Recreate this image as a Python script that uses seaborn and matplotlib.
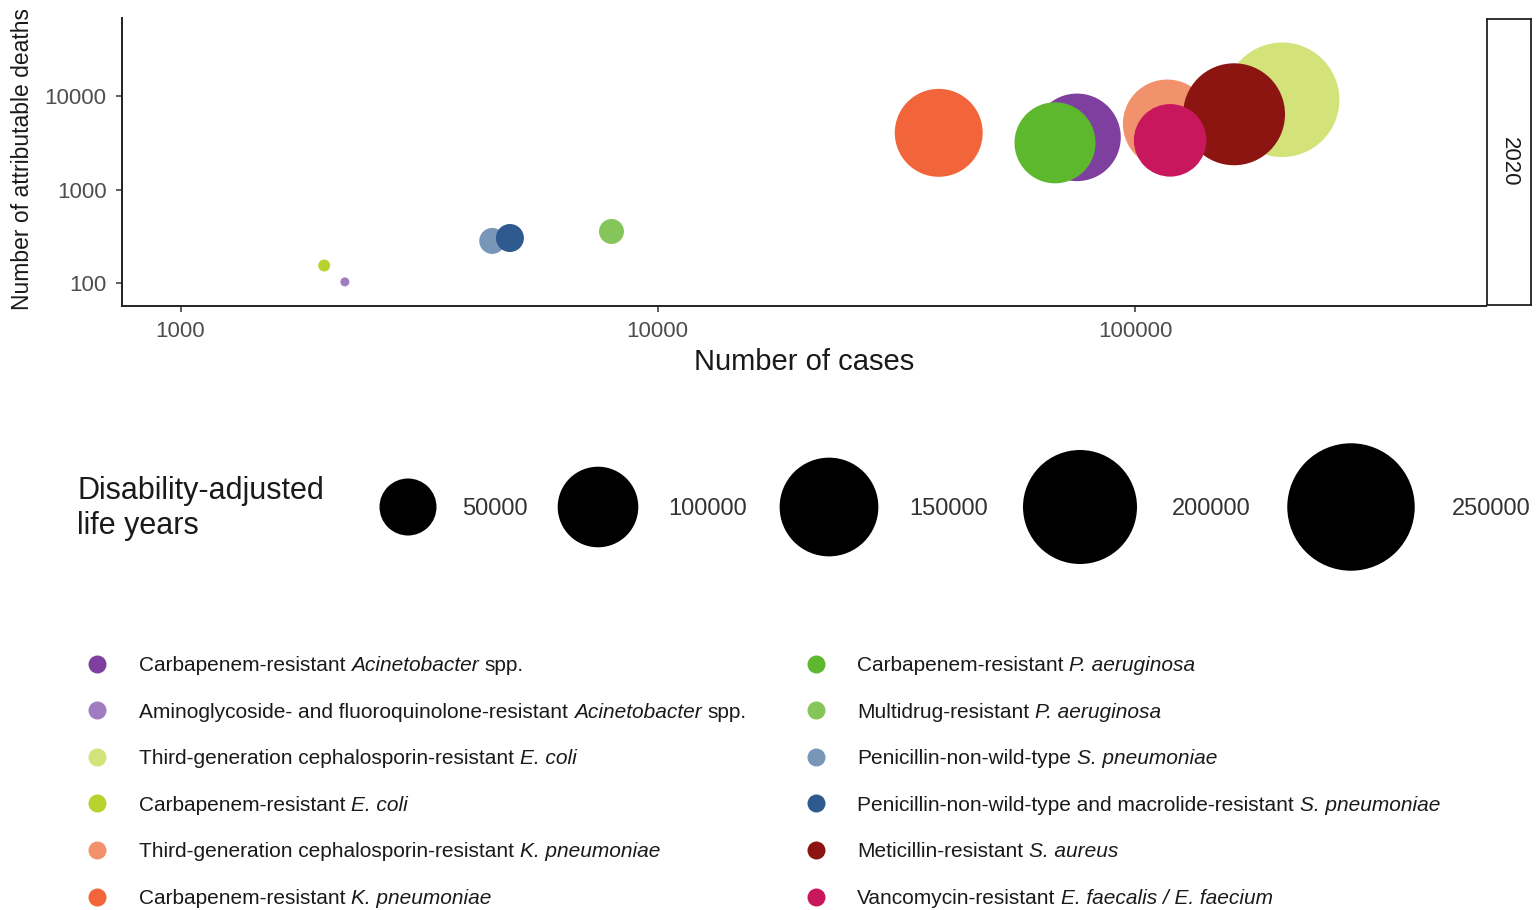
import numpy as np
import pandas as pd
import matplotlib
matplotlib.use("Agg")
import matplotlib.pyplot as plt
from matplotlib.ticker import NullLocator
import seaborn as sns

# ---- data -------------------------------------------------------------
pathogens = [
    "Carbapenem-resistant Acinetobacter spp.",
    "Aminoglycoside- and fluoroquinolone-resistant Acinetobacter spp.",
    "Third-generation cephalosporin-resistant E. coli",
    "Carbapenem-resistant E. coli",
    "Third-generation cephalosporin-resistant K. pneumoniae",
    "Carbapenem-resistant K. pneumoniae",
    "Carbapenem-resistant P. aeruginosa",
    "Multidrug-resistant P. aeruginosa",
    "Penicillin-non-wild-type S. pneumoniae",
    "Penicillin-non-wild-type and macrolide-resistant S. pneumoniae",
    "Meticillin-resistant S. aureus",
    "Vancomycin-resistant E. faecalis / E. faecium",
]
# legend wording split into (text, italic) pieces, joined by single spaces
legend_pieces = [
    [("Carbapenem-resistant", False), ("Acinetobacter", True), ("spp.", False)],
    [("Aminoglycoside- and fluoroquinolone-resistant", False), ("Acinetobacter", True), ("spp.", False)],
    [("Third-generation cephalosporin-resistant", False), ("E. coli", True)],
    [("Carbapenem-resistant", False), ("E. coli", True)],
    [("Third-generation cephalosporin-resistant", False), ("K. pneumoniae", True)],
    [("Carbapenem-resistant", False), ("K. pneumoniae", True)],
    [("Carbapenem-resistant", False), ("P. aeruginosa", True)],
    [("Multidrug-resistant", False), ("P. aeruginosa", True)],
    [("Penicillin-non-wild-type", False), ("S. pneumoniae", True)],
    [("Penicillin-non-wild-type and macrolide-resistant", False), ("S. pneumoniae", True)],
    [("Meticillin-resistant", False), ("S. aureus", True)],
    [("Vancomycin-resistant", False), ("E. faecalis / E. faecium", True)],
]
cases = [75600, 2210, 203400, 2000, 116800, 38800, 68000, 8000, 4500, 4900, 161300, 118500]
deaths = [3640, 102, 9220, 153, 5090, 4070, 3180, 355, 281, 302, 6440, 3380]
dalys = [118000, 1250, 202000, 2200, 120500, 119000, 101000, 9600, 10400, 12100, 160000, 81000]
colours = [
    "#7E3F9E", "#A07CC0", "#D4E27A", "#B7D42E", "#F2926C", "#F2653A",
    "#5DB82E", "#86C55A", "#7896B8", "#2E5A8F", "#8C1512", "#C8175D",
]
x_ticks = [1000, 10000, 100000]
y_ticks = [100, 1000, 10000]
daly_breaks = [50000, 100000, 150000, 200000, 250000]
year = "2020"

# ---- style ------------------------------------------------------------
sns.set_style("ticks")
plt.rcParams.update({
    "font.family": ["Liberation Sans", "DejaVu Sans"],
})

W, H = 1536, 910
fig = plt.figure(figsize=(W / 100, H / 100), dpi=100)
fig.patch.set_facecolor("white")

# main panel (pixel box: x 122..1486, y 18..306)
ax = fig.add_axes([122 / W, 1 - 306 / H, 1364 / W, 288 / H])

df = pd.DataFrame({"pathogen": pathogens, "cases": cases,
                   "deaths": deaths, "daly": dalys})

# marker area (pt^2) is proportional to DALYs
daly_max = daly_breaks[-1]
area_per_daly = (57 * 0.72) ** 2 / 50000

sns.scatterplot(
    data=df, x="cases", y="deaths",
    hue="pathogen", hue_order=pathogens,
    palette=dict(zip(pathogens, colours)),
    size="daly", sizes=(0, area_per_daly * daly_max), size_norm=(0, daly_max),
    linewidth=0, edgecolor="none", alpha=1, legend=False, ax=ax,
)

ax.set_xscale("log")
ax.set_yscale("log")
ax.set_xlim(754, 544000)
ax.set_ylim(56.2, 69660)
ax.set_xticks(x_ticks)
ax.set_xticklabels([str(t) for t in x_ticks])
ax.set_yticks(y_ticks)
ax.set_yticklabels([str(t) for t in y_ticks])
ax.xaxis.set_minor_locator(NullLocator())
ax.yaxis.set_minor_locator(NullLocator())

for side in ("top", "right"):
    ax.spines[side].set_visible(False)
for side in ("left", "bottom"):
    ax.spines[side].set_color("#222222")
    ax.spines[side].set_linewidth(1.4)
ax.tick_params(axis="both", which="major", direction="out", length=4, width=1.1,
               color="#333333", pad=7, labelsize=16, labelcolor="#4d4d4d")

ax.set_xlabel("Number of cases", fontsize=21, color="#1a1a1a")
ax.xaxis.set_label_coords(0.5, -0.145)
ax.set_ylabel("Number of attributable deaths", fontsize=16.5, color="#1a1a1a")
ax.yaxis.set_label_coords(-0.0645, 0.51)

# facet strip on the right
strip = fig.add_axes([1487 / W, 1 - 305 / H, 44 / W, 286 / H])
strip.set_xticks([])
strip.set_yticks([])
for sp in strip.spines.values():
    sp.set_color("#222222")
    sp.set_linewidth(1.3)
strip.text(0.5, 0.5, year, rotation=270, ha="center", va="center",
           fontsize=16, color="#1a1a1a", transform=strip.transAxes)

# ---- legends (drawn on a pixel-coordinate overlay) ----------------------
lax = fig.add_axes([0, 0, 1, 1])
lax.set_xlim(0, W)
lax.set_ylim(H, 0)
lax.axis("off")
renderer = fig.canvas.get_renderer()

# size legend
title_fs = 22
lax.text(77, 499, "Disability-adjusted", fontsize=title_fs, color="#1a1a1a",
         ha="left", va="baseline")
lax.text(77, 534, "life years", fontsize=title_fs, color="#1a1a1a",
         ha="left", va="baseline")
key_x = [408, 598, 829, 1080, 1351]
key_label_x = [462, 668, 909, 1172, 1452]
key_y = 507
lax.scatter(key_x, [key_y] * len(daly_breaks),
            s=area_per_daly * np.array(daly_breaks), c="black", linewidths=0)
lab_fs = 17
for lx, v in zip(key_label_x, daly_breaks):
    lax.text(lx, key_y + 0.716 * lab_fs * 100 / 72 / 2, str(v), fontsize=lab_fs,
             color="#333333", ha="left", va="baseline")


def text_width(s, **kw):
    t = lax.text(0, 0, s, **kw)
    w = t.get_window_extent(renderer=renderer).width
    t.remove()
    return w


def draw_pieces(x, y, pieces, **kw):
    """Write a label made of upright/italic pieces on one baseline."""
    space = text_width("n n", **kw) - text_width("nn", **kw)
    for txt, italic in pieces:
        t = lax.text(x, y, txt, fontstyle="italic" if italic else "normal",
                     ha="left", va="baseline", **kw)
        x += t.get_window_extent(renderer=renderer).width + space


# colour legend: two columns of six
dot_x = [97, 816]
text_x = [139, 857]
row_y0, row_step = 663.5, 46.6
item_fs = 15
for i, (pieces, col) in enumerate(zip(legend_pieces, colours)):
    c, r = divmod(i, 6)
    y = row_y0 + r * row_step
    lax.scatter([dot_x[c]], [y], s=(18 * 0.72) ** 2, color=col, linewidths=0)
    draw_pieces(text_x[c], y + 0.716 * item_fs * 100 / 72 / 2, pieces,
                fontsize=item_fs, color="#1a1a1a")

fig.savefig("out.png", dpi=100, facecolor="white")
